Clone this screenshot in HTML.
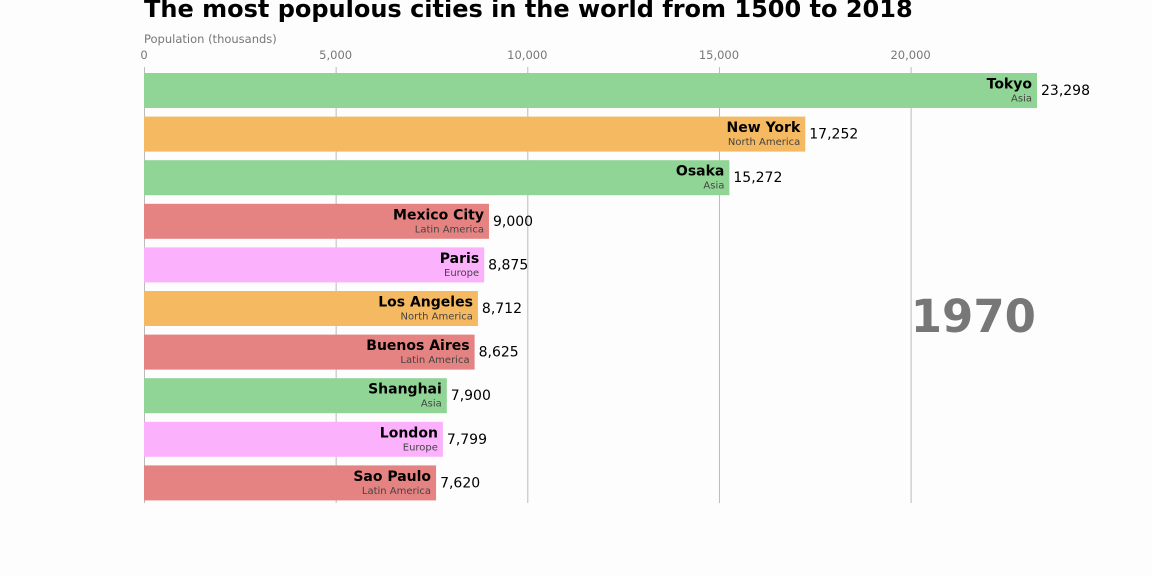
<!DOCTYPE html>
<html><head><meta charset="utf-8"><style>
body{margin:0;background:#fdfdfd;font-family:"DejaVu Sans","Liberation Sans",sans-serif;}
svg{display:block}
</style></head><body>
<svg id="chart" width="1152" height="576" font-family="DejaVu Sans, Liberation Sans, sans-serif">
<rect width="1152" height="576" fill="#fdfdfd"/>
<text x="144" y="17" font-size="24" font-weight="bold" fill="#000">The most populous cities in the world from 1500 to 2018</text>
<text x="144" y="43" font-size="11.5" fill="#777">Population (thousands)</text>
<g id="grid"></g><g id="bars"></g>
<text x="1036" y="332" font-size="45" font-weight="bold" fill="#777" text-anchor="end">1970</text>
</svg>
<script>
const cities=["Tokyo","New York","Osaka","Mexico City","Paris","Los Angeles","Buenos Aires","Shanghai","London","Sao Paulo"];
const regions=["Asia","North America","Asia","Latin America","Europe","North America","Latin America","Asia","Europe","Latin America"];
const values=[23298,17252,15272,9000,8875,8712,8625,7900,7799,7620];
const ticks=[0,5000,10000,15000,20000];
const colors={"Asia":"#90d595","North America":"#f5b961","Latin America":"#e48381","Europe":"#fcb1fc"};
const NS="http://www.w3.org/2000/svg";
const x0=144,scale=0.03833;
const xs=v=>x0+v*scale;
const ys=i=>73+i*43.6;
function mk(t,a,p){const e=document.createElementNS(NS,t);for(const k in a)e.setAttribute(k,a[k]);p.appendChild(e);return e;}
const g=document.getElementById('grid'),b=document.getElementById('bars');
ticks.forEach(t=>{
 const l=mk('line',{x1:xs(t)+0.5,x2:xs(t)+0.5,y1:67,y2:503,stroke:'#bbb','stroke-width':1},g);
 
 
 const tx=mk('text',{x:xs(t),y:59,'font-size':11.5,fill:'#777','text-anchor':'middle'},g);
 tx.textContent=t.toLocaleString('en-US');
 
 
});
values.forEach((v,i)=>{
 const y=ys(i),w=xs(v)-x0;
 const r=mk('rect',{x:x0,y:y,width:w,height:35,fill:colors[regions[i]]},b);
 
 
 const n=mk('text',{x:xs(v)-5,y:y+15.5,'font-size':14,'font-weight':'bold','text-anchor':'end',fill:'#000'},b);
 n.textContent=cities[i];
 
 
 const rg=mk('text',{x:xs(v)-5,y:y+28.5,'font-size':10,'text-anchor':'end',fill:'#444'},b);
 rg.textContent=regions[i];
 
 
 const vl=mk('text',{x:xs(v)+4,y:y+22,'font-size':14,fill:'#000'},b);
 vl.textContent=v.toLocaleString('en-US');
 
 
});
</script>
</body></html>
